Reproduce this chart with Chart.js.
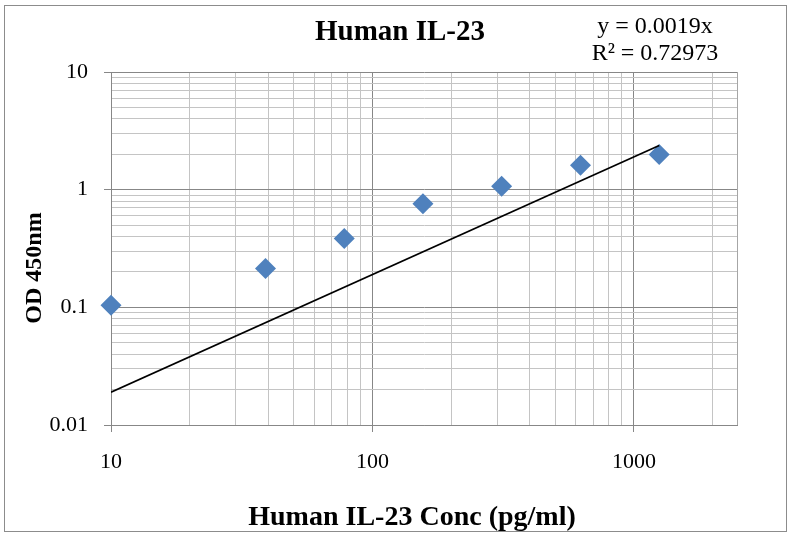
<!DOCTYPE html>
<html>
<head>
<meta charset="utf-8">
<script src="https://cdn.jsdelivr.net/npm/chart.js@4"></script>
<style>
  body { margin: 0; background: #fff; }
  #wrap { width: 790px; height: 534px; }
</style>
</head>
<body>
<div id="wrap"><canvas id="ilChart" width="790" height="534"></canvas></div>
<script>
// standard curve points
const concX = [10, 39, 78, 156, 312, 625, 1250];
const odY = [0.104, 0.214, 0.385, 0.76, 1.07, 1.61, 1.99];
// trendline y = 0.0019x, ends
const trendX = [10, 1250];
const trendY = [0.019, 2.375];
const xTickLabels = [10, 100, 1000];
const yTickLabels = [0.01, 0.1, 1, 10];

const serif = "'Liberation Serif', 'DejaVu Serif', serif";

function logTicks(min, max) {
    const out = [];
    for (let e = Math.floor(Math.log10(min)); e <= Math.ceil(Math.log10(max)); e++) {
        for (let m = 1; m < 10; m++) {
            const v = +(m * Math.pow(10, e)).toPrecision(6);
            if (v >= min - 1e-9 && v <= max + 1e-9) out.push({ value: v });
        }
    }
    return out;
}

function isMajor(v) {
    const l = Math.log10(v);
    return Math.abs(l - Math.round(l)) < 1e-6;
}

const extras = {
    id: 'extras',
    afterDraw(chart) {
        const ctx = chart.ctx;
        const a = chart.chartArea;
        ctx.save();
        // right edge of plot
        ctx.strokeStyle = '#a6a6a6';
        ctx.lineWidth = 1;
        ctx.beginPath();
        ctx.moveTo(Math.round(a.right) + 0.5, a.top);
        ctx.lineTo(Math.round(a.right) + 0.5, a.bottom);
        ctx.stroke();
        // outer border
        ctx.strokeStyle = '#8c8c8c';
        ctx.strokeRect(4.5, 5.5, 782, 526);

        ctx.fillStyle = '#000';
        ctx.textAlign = 'center';
        ctx.textBaseline = 'alphabetic';
        ctx.font = 'bold 29px ' + serif;
        ctx.fillText('Human IL-23', 400, 40);

        ctx.font = '24px ' + serif;
        ctx.fillText('y = 0.0019x', 655, 33);
        ctx.fillText('R² = 0.72973', 655, 60);

        ctx.font = 'bold 28px ' + serif;
        ctx.fillText('Human IL-23 Conc (pg/ml)', 412, 525);

        ctx.translate(41, 268);
        ctx.rotate(-Math.PI / 2);
        ctx.font = 'bold 24px ' + serif;
        ctx.fillText('OD 450nm', 0, 0);
        ctx.restore();
    }
};

const gridOpts = {
    color: (c) => (c.tick && isMajor(c.tick.value)) ? '#878787' : '#c4c4c4',
    tickColor: (c) => (c.tick && isMajor(c.tick.value)) ? '#878787' : 'rgba(0,0,0,0)',
    tickLength: 7,
    lineWidth: 1
};

new Chart(document.getElementById('ilChart'), {
    type: 'scatter',
    data: {
        datasets: [{
            label: 'Trend',
            type: 'line',
            data: trendX.map((x, i) => ({ x: x, y: trendY[i] })),
            borderColor: '#000',
            borderWidth: 1.7,
            pointRadius: 0,
            fill: false
        }, {
            label: 'OD',
            data: concX.map((x, i) => ({ x: x, y: odY[i] })),
            pointStyle: 'rectRot',
            pointRadius: 10.5,
            backgroundColor: '#4F81BD',
            borderColor: '#4F81BD',
            borderWidth: 0,
            clip: false
        }]
    },
    options: {
        responsive: false,
        animation: false,
        layout: { padding: { left: 11, right: 53, top: 72, bottom: 9 } },
        plugins: { legend: { display: false }, tooltip: { enabled: false }, title: { display: false } },
        scales: {
            x: {
                type: 'logarithmic',
                min: 10,
                max: 2480,
                afterBuildTicks: (s) => { s.ticks = logTicks(10, 2480); },
                afterFit: (s) => { s.height = 100; },
                grid: gridOpts,
                border: { color: '#878787' },
                ticks: {
                    autoSkip: false,
                    maxRotation: 0,
                    padding: 17,
                    color: '#000',
                    font: { family: serif, size: 22 },
                    callback: (v) => xTickLabels.includes(v) ? String(v) : ''
                }
            },
            y: {
                type: 'logarithmic',
                min: 0.01,
                max: 10,
                afterBuildTicks: (s) => { s.ticks = logTicks(0.01, 10); },
                afterFit: (s) => { s.width = 100; },
                grid: gridOpts,
                border: { color: '#878787' },
                ticks: {
                    autoSkip: false,
                    padding: 16,
                    color: '#000',
                    font: { family: serif, size: 22 },
                    callback: (v) => yTickLabels.includes(v) ? String(v) : ''
                }
            }
        }
    },
    plugins: [extras]
});
</script>
</body>
</html>
